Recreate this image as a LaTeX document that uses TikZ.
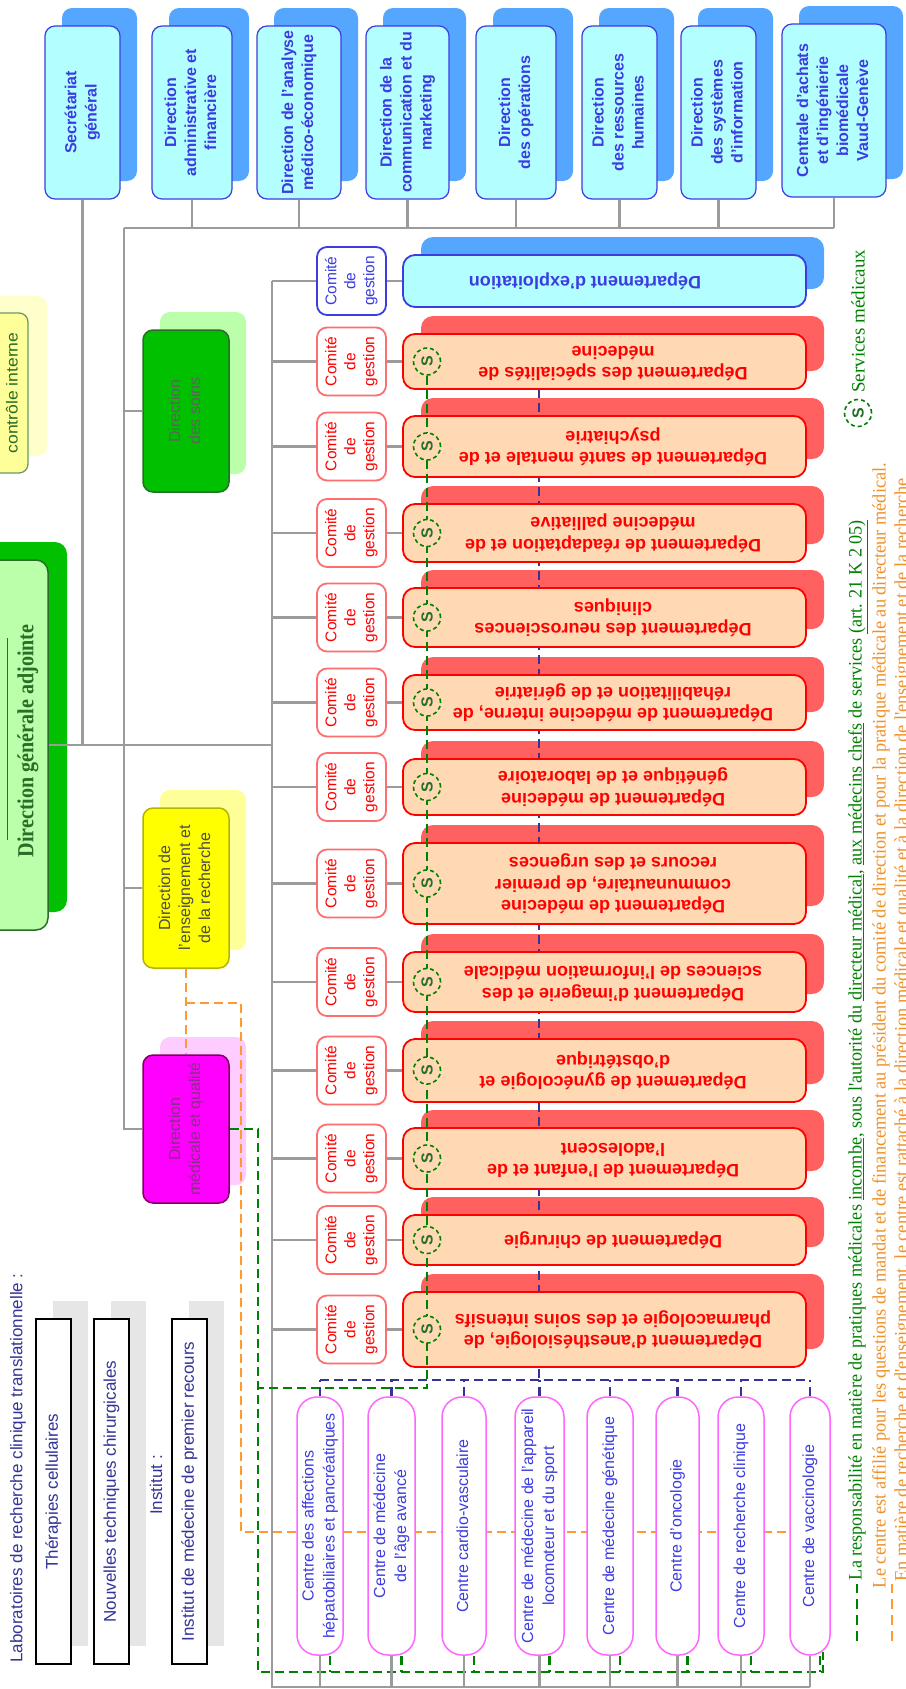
\documentclass[tikz,border=0pt]{standalone}
\usepackage{fontspec}
\setmainfont{Liberation Sans}
\newfontfamily\notefont{Liberation Serif}
\usepackage{graphicx}
\usetikzlibrary{shadows}

\definecolor{cyanfill}{RGB}{179,255,255}
\definecolor{blueshade}{RGB}{85,166,255}
\definecolor{boxblue}{RGB}{60,60,225}
\definecolor{peach}{RGB}{255,217,179}
\definecolor{redshade}{RGB}{255,96,96}
\definecolor{comred}{RGB}{255,110,110}
\definecolor{wiregray}{RGB}{155,155,155}
\definecolor{navy}{RGB}{51,51,153}
\definecolor{medgreen}{RGB}{0,128,0}
\definecolor{noteorange}{RGB}{240,145,40}
\definecolor{dashorange}{RGB}{255,153,51}
\definecolor{soinsgreen}{RGB}{0,192,0}
\definecolor{palegreen}{RGB}{187,255,170}
\definecolor{darkgreen}{RGB}{40,110,40}
\definecolor{enswyellow}{RGB}{255,255,0}
\definecolor{paleyellow}{RGB}{255,255,153}
\definecolor{lightyellow}{RGB}{255,255,204}
\definecolor{olive}{RGB}{180,180,0}
\definecolor{dmqmagenta}{RGB}{255,0,255}
\definecolor{pinkshade}{RGB}{255,204,255}
\definecolor{plum}{RGB}{128,0,96}
\definecolor{plumtext}{RGB}{130,50,130}
\definecolor{pillpink}{RGB}{255,102,255}
\definecolor{labgray}{RGB}{230,230,230}
\definecolor{labblue}{RGB}{51,51,153}

\newcommand{\vlines}[1]{\rotatebox{90}{\begin{tabular}{@{}c@{}}#1\end{tabular}}}
\newcommand{\flipped}[1]{\rotatebox{180}{\begin{tabular}{@{}c@{}}#1\end{tabular}}}
\newcommand{\noteline}[2]{\rotatebox{90}{\resizebox{#1}{\height}{#2}}}

\tikzset{
  dirbox/.style={draw=boxblue, line width=1.2pt, fill=cyanfill, rounded corners=10pt,
    minimum height=173pt, inner sep=0pt, text=boxblue,
    font=\fontsize{16}{20}\selectfont\bfseries,
    general shadow={fill=blueshade, shadow xshift=17pt, shadow yshift=18pt}},
  sidebox/.style={rounded corners=10pt, minimum width=86pt, line width=1.5pt, inner sep=0pt,
    font=\fontsize{16}{20}\selectfont,
    general shadow={fill=#1, shadow xshift=17pt, shadow yshift=18pt}},
  deptshadow/.style={fill=redshade, rounded corners=12pt, minimum width=403pt, inner sep=0pt},
  deptbox/.style={draw=red, line width=1.8pt, fill=peach, rounded corners=12pt,
    minimum width=403pt, inner sep=0pt},
  depttext/.style={inner sep=0pt, text=red, font=\fontsize{18}{21.5}\selectfont\bfseries},
  comite/.style={draw=comred, line width=1.8pt, fill=white, rounded corners=10pt,
    minimum width=69pt, minimum height=68pt, inner sep=0pt, text=red,
    font=\fontsize{15.5}{19}\selectfont},
  pill/.style={draw=pillpink, line width=1.5pt, fill=white, rounded corners=20pt,
    minimum height=258pt, inner sep=0pt, text=boxblue, font=\fontsize{16}{21}\selectfont},
  scircle/.style={circle, draw=medgreen, line width=1.6pt, dash pattern=on 4pt off 3pt,
    fill=peach, minimum size=27pt, inner sep=0pt, text=darkgreen,
    font=\fontsize{16}{16}\selectfont\bfseries},
  labbox/.style={draw=black, line width=1.3pt, fill=white, minimum width=35pt,
    minimum height=345pt, inner sep=0pt, text=labblue, font=\fontsize{17}{20}\selectfont,
    general shadow={fill=labgray, shadow xshift=17pt, shadow yshift=18pt}},
  labtext/.style={inner sep=0pt, text=labblue, font=\fontsize{17}{20}\selectfont},
  notetext/.style={inner sep=0pt, font=\notefont\fontsize{19}{22}\selectfont},
  wireline/.style={draw=wiregray, line width=2.4pt},
  meddash/.style={draw=medgreen, line width=2.2pt, dash pattern=on 9pt off 5pt},
  navydash/.style={draw=navy, line width=2.2pt, dash pattern=on 9pt off 5pt},
  orangedash/.style={draw=dashorange, line width=2.2pt, dash pattern=on 9pt off 5pt}
}

\def\deptlist{361.5/55/{Département des spécialités de\\médecine},%
446.5/61/{Département de santé mentale et de\\psychiatrie},%
533/58/{Département de réadaptation et de\\médecine palliative},%
617.5/59/{Département des neurosciences\\cliniques},%
702.5/55/{Département de médecine interne, de\\réhabilitation et de gériatrie},%
787/56/{Département de médecine\\génétique et de laboratoire},%
883.5/81/{Département de médecine\\communautaire, de premier\\recours et des urgences},%
982/60/{Département d'imagerie et des\\sciences de l'information médicale},%
1070.5/63/{Département de gynécologie et\\d'obstétrique},%
1158.5/61/{Département de l'enfant et de\\l'adolescent},%
1240/50/{Département de chirurgie},%
1329.5/75/{Département d'anesthésiologie, de\\pharmacologie et des soins intensifs}}

\def\centrelist{320/46/{Centre des affections\\hépatobiliaires et pancréatiques},%
391.5/47/{Centre de médecine\\de l'âge avancé},%
464/44/{Centre cardio-vasculaire},%
539.5/49/{Centre  de médecine de l'appareil\\locomoteur et du sport},%
610/46/{Centre de médecine génétique},%
677.5/43/{Centre d'oncologie},%
741/46/{Centre de recherche clinique},%
810/40/{Centre de vaccinologie}}

\begin{document}
\begin{tikzpicture}[x=1pt,y=-1pt]
\useasboundingbox (0,0) rectangle (905,1689);

% top row of directions
\node[dirbox, minimum width=75pt] (sg) at (82.5,112.5) {\vlines{Secrétariat\\général}};
\node[dirbox, minimum width=80pt] (daf) at (192,112.5) {\vlines{Direction\\administrative et\\financière}};
\node[dirbox, minimum width=84pt] (dame) at (299,112.5) {\vlines{Direction de l'analyse\\médico-économique}};
\node[dirbox, minimum width=83pt] (dcm) at (407.5,112.5) {\vlines{Direction de la\\communication et du\\marketing}};
\node[dirbox, minimum width=80pt] (dop) at (516,112.5) {\vlines{Direction\\des opérations}};
\node[dirbox, minimum width=75pt] (drh) at (619.5,112.5) {\vlines{Direction\\des ressources\\humaines}};
\node[dirbox, minimum width=75pt] (dsi) at (718.5,112.5) {\vlines{Direction\\des systèmes\\d'information}};
\node[dirbox, minimum width=104pt] (cai) at (834,110.5) {\vlines{Centrale d'achats\\et d'ingénierie\\biomédicale\\Vaud-Genève}};

% general direction and control, cut by the left edge
\node[draw=darkgreen!70, line width=1.3pt, fill=paleyellow, rounded corners=9pt,
  minimum width=58pt, minimum height=160pt,
  general shadow={fill=lightyellow, shadow xshift=19pt, shadow yshift=17pt}] (ctrl) at (-1,393) {};
\node[inner sep=0pt, text=darkgreen, font=\fontsize{16}{18}\selectfont] (ctrltxt) at (12,393)
  {\rotatebox{90}{\resizebox{121pt}{\height}{contrôle interne}}};
\node[draw=darkgreen, line width=1.5pt, fill=palegreen, rounded corners=12pt,
  minimum width=78pt, minimum height=370pt,
  general shadow={fill=soinsgreen, shadow xshift=19pt, shadow yshift=18pt}] (dga) at (9,745) {};
\node[inner sep=0pt, text=darkgreen, font=\notefont\fontsize{23}{26}\selectfont\bfseries] (dgatxt) at (28,741)
  {\rotatebox{90}{\resizebox{233pt}{\height}{Direction générale adjointe}}};
\draw[darkgreen, line width=1pt] (dga.center |- 0,638) ++(-2,0) -- ++(0,202);

% side directions
\node[sidebox=palegreen, draw=darkgreen, fill=soinsgreen, minimum height=162pt, text=black!62] (soins) at (186,411) {\vlines{Direction\\des soins}};
\node[sidebox=paleyellow, draw=olive, fill=enswyellow, minimum height=160pt, text=black!70] (ens) at (186,888) {\vlines{Direction de\\l'enseignement et\\de la recherche}};
\node[sidebox=pinkshade, draw=plum, fill=dmqmagenta, minimum height=148pt, text=plumtext] (dmq) at (186,1129) {\vlines{Direction\\médicale et qualité}};

% main wiring
\coordinate (busL) at (124,228);
\coordinate (busR) at (834,228);
\coordinate (cbTop) at (272,281);
\coordinate (cbBot) at (272,1687);
\draw[wireline] (busL) -- (busR);
\foreach \n in {daf,dame,dcm,dop,drh,dsi,cai}
  \draw[wireline] (\n.south) -- (\n.south |- busL);
\draw[wireline] (sg.south) -- (sg.south |- dga.east);
\draw[wireline] (dga.east) -- (dga.east -| cbTop);
\draw[wireline] (busL) -- (busL |- dmq.west) -- (dmq.west);
\draw[wireline] (busL |- soins.west) -- (soins.west);
\draw[wireline] (busL |- ens.west) -- (ens.west);
\draw[wireline] (cbTop) -- (cbBot) -- (cbBot -| 810,0);

% departments: shadows, then the dashed link, then the fronts
\node[deptshadow, fill=blueshade, minimum height=52pt] (dxsh) at (622.5,263) {};
\foreach \y/\h/\txt [count=\k] in \deptlist
  \node[deptshadow, minimum height=\h pt] (dsh\k) at (622.5,{\y-18}) {};

\coordinate (navyTop) at (539,389);
\coordinate (navyL) at (320,1380);
\coordinate (navyR) at (810,1380);
\draw[navydash] (navyTop) -- (navyTop |- navyL);
\draw[navydash] (navyL) -- (navyR);

\node[deptbox, draw=boxblue, fill=cyanfill, minimum height=52pt] (depx) at (604.5,281) {};
\node[depttext, text=boxblue] (dtxx) at (585,281) {\flipped{Département d'exploitation}};
\foreach \y/\h/\txt [count=\k] in \deptlist {
  \node[deptbox, minimum height=\h pt] (dep\k) at (604.5,\y) {};
  \node[depttext] (dtx\k) at (613,\y) {\flipped{\txt}};
}

% management committees
\node[comite, draw=boxblue, text=boxblue] (cmx) at (351.5,281) {\vlines{Comité\\de\\gestion}};
\draw[wireline] (cbTop) -- (cmx.west);
\draw[wireline] (cmx.east) -- (depx.west);
\foreach \y [count=\k] in {361.5,446.5,533,617.5,702.5,787,883.5,982,1070.5,1158.5,1240,1329.5} {
  \node[comite] (cm\k) at (351.5,\y) {\vlines{Comité\\de\\gestion}};
  \draw[wireline] (cm\k.west -| cbTop) -- (cm\k.west);
  \draw[wireline] (cm\k.east) -- (dep\k.west);
}

% medical services link
\coordinate (sTop) at (427,361.5);
\coordinate (grnCorner) at (258,1388);
\coordinate (grnBot) at (258,1672);
\coordinate (grnEnd) at (823,1652);
\draw[meddash] (sTop) -- (sTop |- grnCorner) -- (grnCorner);
\draw[meddash] (dmq.east) -- (dmq.east -| grnBot) -- (grnBot) -- (grnBot -| grnEnd) -- (grnEnd);
\foreach \y [count=\k] in {361.5,446.5,533,617.5,702.5,787,883.5,982,1070.5,1158.5,1240,1329.5}
  \node[scircle] (s\k) at (427,\y) {\rotatebox{90}{S}};

% teaching and research link
\coordinate (orgA) at (186,1003);
\coordinate (orgB) at (241,1532);
\draw[orangedash] (ens.south) -- (dmq.north);
\draw[orangedash] (orgA) -- (orgA -| orgB) -- (orgB) -- (830,1532);

% centres
\foreach \x/\w/\txt [count=\k] in \centrelist {
  \node[pill, minimum width=\w pt] (c\k) at (\x,1526) {\vlines{\txt}};
  \draw[wireline] (c\k.south) -- (c\k.south |- cbBot);
  \draw[navydash] (c\k.north) -- (c\k.north |- navyR);
  \draw[meddash] ([xshift=10pt]c\k.south) -- ([xshift=10pt]c\k.south |- grnBot);
}

% laboratories and institute
\node[labtext, anchor=north] (labtitle) at (18,1273) {\rotatebox{90}{Laboratoires de recherche clinique translationnelle :}};
\node[labbox] (lab1) at (53.5,1491.5) {\rotatebox{90}{Thérapies cellulaires}};
\node[labbox] (lab2) at (111.5,1491.5) {\rotatebox{90}{Nouvelles techniques chirurgicales}};
\node[labtext] (insttitle) at (156,1485) {\rotatebox{90}{Institut :}};
\node[labbox] (inst) at (189.5,1491.5) {\rotatebox{90}{Institut de médecine de premier recours}};

% legend
\node[scircle, fill=white] (sleg) at (858,413) {\rotatebox{90}{S}};
\node[notetext, text=medgreen, anchor=south] (slegtxt) at (858,393) {\rotatebox{90}{Services médicaux}};
\coordinate (ln1a) at (857,1641);
\coordinate (ln1b) at (857,1584);
\draw[meddash, line width=2.6pt, dash pattern=on 10pt off 6pt] (ln1a) -- (ln1b);
\node[notetext, text=medgreen] (note1) at (858,1050) {\noteline{1060pt}{La responsabilité en matière de pratiques médicales \underline{incombe}, sous l'autorité du \underline{directeur médical}, \underline{aux médecins chefs} de services \underline{(art. 21 K 2 05)}}};
\node[notetext, text=noteorange] (note2) at (881,1025.5) {\noteline{1125pt}{Le centre est affilié pour les questions de mandat et de financement au président du comité de direction et pour la pratique médicale au directeur médical.}};
\coordinate (ln3a) at (892,1641);
\coordinate (ln3b) at (892,1584);
\draw[orangedash, line width=2.6pt, dash pattern=on 10pt off 6pt] (ln3a) -- (ln3b);
\node[notetext, text=noteorange] (note3) at (903,1030) {\noteline{1103pt}{En matière de recherche et d'enseignement, le centre est rattaché à la direction médicale et qualité et à la direction de l'enseignement et de la recherche}};

\end{tikzpicture}
\end{document}
